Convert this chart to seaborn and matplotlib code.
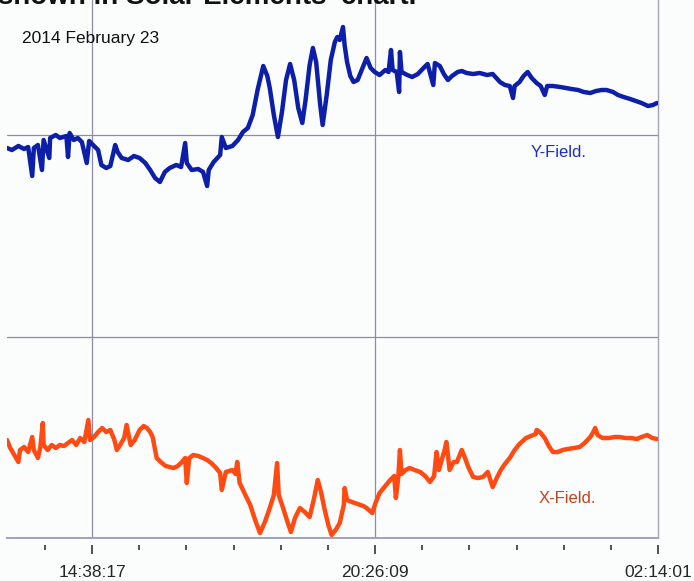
import numpy as np
import pandas as pd
import matplotlib
matplotlib.use("Agg")
import matplotlib.pyplot as plt
import seaborn as sns

# Magnetometer record, 2014 February 23 -> 24
record_start = "12:53:48"
tick_clock = ["14:38:17", "20:26:09", "02:14:01"]

# Y-field: minutes after record start, relative field level
y_minutes = [0, 6, 14, 21, 26, 31, 33, 38, 43, 45,
             52, 53, 60, 65, 73, 75, 77, 82, 87, 92, 98, 101,
             107, 112, 116, 122, 127, 133, 136, 141, 149, 156,
             163, 170, 176, 182, 188, 194, 200, 208, 214, 219,
             221, 227, 235, 241, 246, 248, 254, 262, 264, 269, 277,
             284, 290, 296, 302, 308, 315, 320, 323, 328, 333,
             338, 343, 348, 353, 358, 363, 367, 372, 376, 380,
             385, 388, 393, 398, 403, 406, 409, 413, 415, 418,
             422, 426, 431, 436, 442, 447, 452, 458, 465, 469,
             472, 474, 479, 482, 483, 485, 492, 498, 505, 512,
             517, 524, 526, 532, 537, 542, 547, 554, 559, 565,
             573, 581, 590, 597, 606, 612, 618, 622, 624, 630,
             635, 640, 645, 651, 656, 661, 664, 671, 680, 687,
             694, 702, 709, 717, 724, 731, 737, 745, 751, 758,
             766, 773, 780, 788, 794, 799]
y_field = [390, 388, 392, 389, 391, 362, 390, 393, 368, 398,
           380, 400, 403, 400, 402, 381, 405, 398, 400, 396, 375, 397,
           392, 388, 373, 370, 372, 393, 386, 380, 378, 382,
           380, 375, 368, 360, 356, 366, 370, 373, 371, 395,
           375, 368, 369, 366, 352, 368, 376, 383, 401, 390, 392,
           398, 406, 410, 423, 448, 472, 462, 450, 423, 401,
           426, 458, 474, 458, 430, 415, 438, 473, 490, 476,
           433, 413, 443, 478, 496, 501, 498, 511, 493, 476,
           462, 456, 458, 468, 480, 470, 466, 463, 468, 466,
           488, 468, 466, 446, 486, 466, 463, 461, 464, 470,
           474, 453, 475, 472, 464, 458, 462, 466, 467, 465,
           464, 465, 463, 464, 456, 453, 452, 440, 452, 456,
           462, 466, 460, 455, 452, 443, 452, 452, 451, 450,
           449, 448, 446, 445, 447, 448, 448, 446, 443, 441,
           439, 437, 435, 432, 433, 435]

# X-field: minutes after record start, relative field level
x_minutes = [0, 4, 9, 14, 16, 21, 26, 31, 33, 38,
             41, 44, 45, 50, 55, 60, 65, 70, 75, 80, 85,
             90, 95, 100, 102, 107, 112, 117, 122, 127, 132,
             135, 139, 144, 147, 152, 157, 163, 168, 172, 176,
             179, 184, 189, 195, 200, 205, 210, 215, 219, 221,
             224, 229, 235, 241, 246, 251, 256, 262, 264, 269, 277,
             281, 283, 286, 293, 299, 305, 311, 317, 323, 328, 332,
             334, 339, 344, 349, 354, 360, 366, 372, 377, 382,
             386, 390, 395, 399, 404, 409, 414, 415, 418, 424,
             431, 438, 442, 449, 453, 458, 465, 471, 476, 478,
             481, 483, 485, 490, 495, 501, 508, 514, 520, 525,
             528, 531, 535, 538, 540, 542, 544, 549, 553, 559,
             563, 567, 573, 579, 585, 591, 597, 602, 607, 612,
             618, 624, 630, 638, 644, 650, 651, 655, 661, 666,
             671, 677, 683, 689, 697, 704, 710, 717, 720, 723,
             726, 732, 740, 747, 753, 760, 767, 774, 780, 787,
             793, 799]
x_field = [98, 90, 83, 76, 88, 91, 86, 101, 88, 80,
           91, 115, 93, 88, 93, 90, 93, 92, 95, 98, 93,
           100, 96, 118, 98, 101, 106, 110, 106, 108, 98,
           88, 93, 100, 113, 93, 98, 108, 112, 110, 106,
           101, 80, 76, 72, 71, 70, 72, 76, 80, 55,
           80, 83, 82, 80, 78, 75, 71, 65, 48, 66, 68,
           64, 76, 55, 43, 33, 18, 5, 16, 30, 43, 75,
           43, 31, 18, 6, 20, 30, 26, 21, 38, 58,
           46, 30, 13, 3, 8, 15, 33, 50, 38, 36,
           34, 32, 30, 25, 35, 45, 52, 58, 62, 40,
           61, 88, 64, 68, 70, 68, 66, 62, 56, 62,
           86, 68, 80, 88, 96, 83, 68, 76, 76, 88,
           80, 71, 61, 60, 61, 66, 51, 60, 68, 74,
           80, 88, 94, 100, 102, 104, 108, 106, 100, 92,
           86, 86, 88, 89, 90, 91, 95, 101, 105, 110,
           103, 100, 100, 101, 101, 100, 100, 99, 101, 103,
           100, 99]

# Reference levels drawn across the panel
ref_levels = [201, 403]

assert len(y_minutes) == len(y_field)
assert len(x_minutes) == len(x_field)


def clock_to_minutes(clock, start):
    h, m, s = (int(v) for v in clock.split(":"))
    h0, m0, s0 = (int(v) for v in start.split(":"))
    d = (h * 3600 + m * 60 + s) - (h0 * 3600 + m0 * 60 + s0)
    if d < 0:
        d += 24 * 3600
    return d / 60.0


major_pos = [clock_to_minutes(c, record_start) for c in tick_clock]
step = (major_pos[1] - major_pos[0]) / 6.0
first_minor = major_pos[0] - step
minor_pos = [first_minor + k * step for k in range(14)]

sns.set_style("white")
plt.rcParams["font.family"] = ["Liberation Sans", "DejaVu Sans"]

fig = plt.figure(figsize=(6.94, 5.81), dpi=100, facecolor="#fbfdfd")
ax = fig.add_axes([7 / 694, 43 / 581, 651 / 694, 538 / 581])
ax.set_facecolor("#fbfdfd")

grid_col = "#8a8caa"
for lvl in ref_levels:
    ax.axhline(lvl, color=grid_col, lw=0.9, zorder=1)
for pos in major_pos[:2]:
    ax.axvline(pos, color=grid_col, lw=0.9, zorder=1)

y_df = pd.DataFrame({"minutes": y_minutes, "field": y_field})
x_df = pd.DataFrame({"minutes": x_minutes, "field": x_field})
sns.lineplot(data=y_df, x="minutes", y="field", ax=ax, color="#0d1fa8",
             lw=3.2, estimator=None, sort=False, zorder=3)
sns.lineplot(data=x_df, x="minutes", y="field", ax=ax, color="#ff4a12",
             lw=3.2, estimator=None, sort=False, zorder=3)

ax.set_xlim(0, major_pos[2])
ax.set_ylim(0, 538)
ax.set_xlabel("")
ax.set_ylabel("")
ax.set_xticks([])
ax.set_yticks([])
for side in ("left", "top"):
    ax.spines[side].set_visible(False)
ax.spines["right"].set_color("#a0a2b8")
ax.spines["right"].set_linewidth(1.0)
ax.spines["bottom"].set_color("#a0a2b8")
ax.spines["bottom"].set_linewidth(1.4)

# Time ticks sit a little below the baseline
sec = ax.secondary_xaxis(-0.013)
sec.spines["bottom"].set_visible(False)
sec.set_xticks(major_pos, tick_clock)
sec.set_xticks(minor_pos, minor=True)
sec.tick_params(axis="x", which="major", length=6.5, width=1.1, pad=8,
                labelsize=12.5, color="#222222")
sec.tick_params(axis="x", which="minor", length=3.5, width=1.1,
                color="#222222")

ax.text(0.023, 0.929, "2014 February 23", transform=ax.transAxes,
        fontsize=12.5, color="#111111", ha="left", va="center")
ax.text(0.848, 0.717, "Y-Field.", transform=ax.transAxes,
        fontsize=12, color="#1a2fc0", ha="center", va="center")
ax.text(0.860, 0.074, "X-Field.", transform=ax.transAxes,
        fontsize=12, color="#c4441c", ha="center", va="center")

# Caption line running off the top edge
fig.text(-2 / 694, 1 - 4 / 581, "shown in Solar Elements' chart.",
         fontsize=20, fontweight="bold", color="#111111",
         ha="left", va="baseline")

fig.savefig("out.png", dpi=100, facecolor=fig.get_facecolor())
